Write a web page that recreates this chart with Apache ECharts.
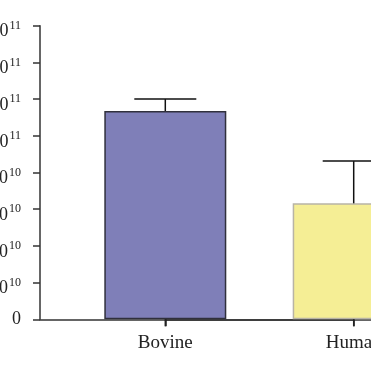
<!DOCTYPE html>
<html><head><meta charset="utf-8">
<script src="https://cdn.jsdelivr.net/npm/echarts@6/dist/echarts.min.js"></script>
<style>html,body{margin:0;padding:0;background:#fff}#c{width:371px;height:371px}</style>
</head><body><div id="c"></div>
<script>
const categories = ['Bovine', 'Human'];
const means = [1.135e11, 0.632e11];
const errors = [0.065e11, 0.23e11];
const yTicks = [0, 2e10, 4e10, 6e10, 8e10, 1e11, 1.2e11, 1.4e11, 1.6e11];
const barColors = ['#7f7fb8', '#f5ee95'];
const barBorders = ['#30303c', '#b8b4a6'];

function fmt(v) {
  if (v === 0) return '{z|0}';
  const e = Math.floor(Math.log10(v) + 1e-9);
  const m = +(v / Math.pow(10, e)).toFixed(2);
  return '{b|' + m + ' \u00d7 10}{s|' + e + '}';
}

const chart = echarts.init(document.getElementById('c'));
const serif = '"Liberation Serif", "DejaVu Serif", serif';
chart.setOption({
  animation: false,
  grid: [
    {left: 165.3, right: 17.3, top: 25.7, bottom: 51.7, outerBoundsMode: 'none'},
    {left: 40, right: 0, top: 25.7, bottom: 51.7, outerBoundsMode: 'none'}
  ],
  xAxis: [
    {type: 'category', gridIndex: 0, data: categories, boundaryGap: false,
     axisLine: {lineStyle: {color: '#333', width: 1.5}},
     axisTick: {show: true, interval: 0, length: 7, lineStyle: {color: '#222', width: 1.5}},
     axisLabel: {color: '#222', fontFamily: serif, fontSize: 19, margin: 14, interval: 0, hideOverlap: false,
                 showMinLabel: true, showMaxLabel: true}},
    {type: 'category', gridIndex: 1, data: [''],
     axisLine: {lineStyle: {color: '#333', width: 1.5}},
     axisTick: {show: false}, axisLabel: {show: false}}
  ],
  yAxis: [
    {type: 'value', gridIndex: 0, min: yTicks[0], max: yTicks[yTicks.length - 1],
     interval: yTicks[1] - yTicks[0], offset: 125.3,
     splitLine: {show: false},
     axisLine: {show: true, lineStyle: {color: '#333', width: 1.5}},
     axisTick: {show: true, length: 7, lineStyle: {color: '#333', width: 1.5}},
     axisLabel: {margin: 19, color: '#222', fontFamily: serif, formatter: fmt,
       showMinLabel: true, showMaxLabel: true, hideOverlap: false,
       rich: {
         z: {fontSize: 18, lineHeight: 18, fontFamily: serif, color: '#222'},
         b: {fontSize: 18, lineHeight: 18, padding: [12, 0, 0, 0], fontFamily: serif, color: '#222'},
         s: {fontSize: 12, lineHeight: 12, padding: [0, 0, 0, 1], fontFamily: serif, color: '#222'}
       }}},
    {type: 'value', gridIndex: 1, show: false, min: 0, max: 1}
  ],
  series: [
    {type: 'bar', xAxisIndex: 0, yAxisIndex: 0, barWidth: 122, clip: false,
     data: means.map((v, i) => ({value: v, itemStyle: {color: barColors[i], borderColor: barBorders[i], borderWidth: 1.5}})),
     z: 2},
    {type: 'custom', xAxisIndex: 0, yAxisIndex: 0, z: 3, clip: false,
     data: means.map((v, i) => [i, v, v + errors[i]]),
     renderItem: function (params, api) {
       const p0 = api.coord([api.value(0), api.value(1)]);
       const p1 = api.coord([api.value(0), api.value(2)]);
       const pz = api.coord([api.value(0), 0]);
       const half = 31;
       const st = {stroke: '#111', lineWidth: 1.5, fill: null};
       return {type: 'group', children: [
         {type: 'line', shape: {x1: p0[0], y1: p0[1], x2: p1[0], y2: p1[1]}, style: st},
         {type: 'line', shape: {x1: p1[0] - half, y1: p1[1], x2: p1[0] + half, y2: p1[1]}, style: st},
         {type: 'line', shape: {x1: pz[0], y1: pz[1], x2: pz[0], y2: pz[1] + 7}, style: {stroke: '#222', lineWidth: 1.5, fill: null}}
       ]};
     }}
  ]
});
</script></body></html>
